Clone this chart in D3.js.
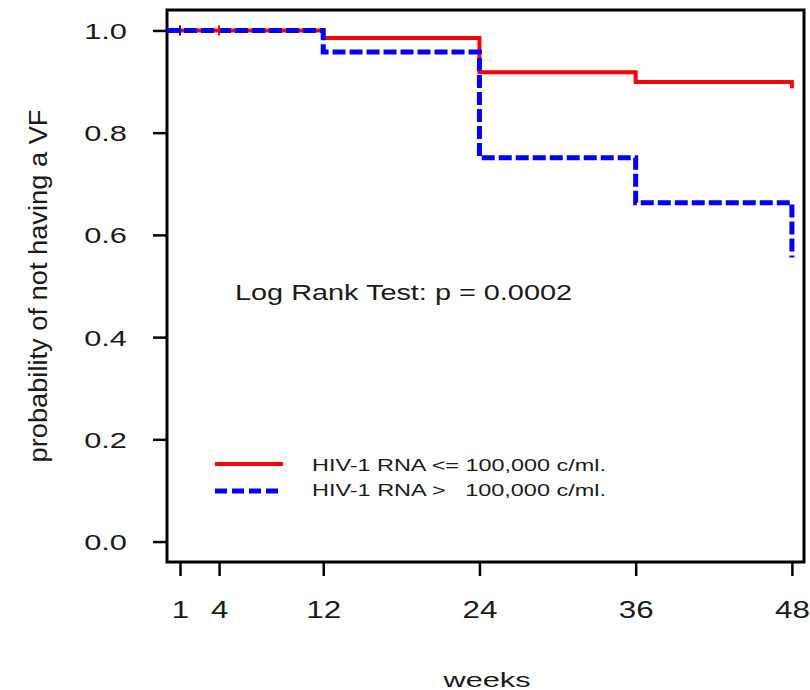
<!DOCTYPE html>
<html>
<head>
<meta charset="utf-8">
<script src="https://cdn.jsdelivr.net/npm/d3@7"></script>
<style>
  html, body { margin: 0; padding: 0; background: #fff; }
  text { font-family: "Liberation Sans", Arial, sans-serif; fill: #1a1a1a; }
</style>
</head>
<body>
<svg id="chart" width="810" height="690"></svg>
<script>
// ---- data ----
const weekTicks = [1, 4, 12, 24, 36, 48];
const probTicks = [0.0, 0.2, 0.4, 0.6, 0.8, 1.0];
const stepWeeks = [0, 12, 24, 36, 48];
const lowRNA = [1.0, 0.985, 0.918, 0.899, 0.887];   // HIV-1 RNA <= 100,000
const highRNA = [1.0, 0.958, 0.751, 0.663, 0.556];  // HIV-1 RNA > 100,000
const lowCensor = [4];
const highCensor = [1];
const seriesNames = ["HIV-1 RNA <= 100,000 c/ml.", "HIV-1 RNA >   100,000 c/ml."];
const annotation = "Log Rank Test: p = 0.0002";
const xTitle = "weeks";
const yTitle = "probability of not having a VF";

// ---- layout ----
const svg = d3.select("#chart");
const box = {left: 167, right: 804, top: 10, bottom: 562};
const x = d3.scaleLinear().domain([0, 48.93]).range([box.left, box.right]);
const y = d3.scaleLinear().domain([-0.04, 1.04]).range([box.bottom, box.top]);

function widen(sel, factor) {
  sel.each(function() {
    const w = this.getComputedTextLength();
    d3.select(this).attr("textLength", w * factor).attr("lengthAdjust", "spacingAndGlyphs");
  });
}
function fitWidth(sel, width) {
  sel.attr("textLength", width).attr("lengthAdjust", "spacingAndGlyphs");
}

// axes
const yAxis = d3.axisLeft(y).tickValues(probTicks).tickFormat(d3.format(".1f")).tickSize(14).tickPadding(26);
const gy = svg.append("g").attr("transform", `translate(${box.left},0)`).call(yAxis);
gy.select(".domain").remove();
gy.selectAll(".tick line").attr("stroke", "#000").attr("stroke-width", 2.5);
gy.selectAll(".tick text").attr("font-size", 22).attr("dy", "0.36em")
  .style("font-family", "Liberation Sans, Arial, sans-serif").attr("fill", "#1a1a1a");
widen(gy.selectAll(".tick text"), 1.4);

const xAxis = d3.axisBottom(x).tickValues(weekTicks).tickFormat(d3.format("d")).tickSize(14).tickPadding(26);
const gx = svg.append("g").attr("transform", `translate(0,${box.bottom})`).call(xAxis);
gx.select(".domain").remove();
gx.selectAll(".tick line").attr("stroke", "#000").attr("stroke-width", 2.5);
gx.selectAll(".tick text").attr("font-size", 23)
  .style("font-family", "Liberation Sans, Arial, sans-serif").attr("fill", "#1a1a1a");
widen(gx.selectAll(".tick text"), 1.36);

// box
svg.append("rect")
  .attr("x", box.left).attr("y", box.top)
  .attr("width", box.right - box.left).attr("height", box.bottom - box.top)
  .attr("fill", "none").attr("stroke", "#000").attr("stroke-width", 3);

// curves
const line = d3.line().x(d => x(d[0])).y(d => y(d[1])).curve(d3.curveStepAfter);
svg.append("path")
  .datum(stepWeeks.map((w, i) => [w, lowRNA[i]]))
  .attr("d", line).attr("fill", "none").attr("stroke", "#ff0000").attr("stroke-width", 4);
svg.append("path")
  .datum(stepWeeks.map((w, i) => [w, highRNA[i]]))
  .attr("d", line).attr("fill", "none").attr("stroke", "#0000ff").attr("stroke-width", 5)
  .attr("stroke-dasharray", "13,4");

// censor marks
svg.selectAll(".cl").data(lowCensor).enter().append("line")
  .attr("x1", d => x(d)).attr("x2", d => x(d)).attr("y1", y(1) - 5).attr("y2", y(1) + 5)
  .attr("stroke", "#ff0000").attr("stroke-width", 2);
svg.selectAll(".ch").data(highCensor).enter().append("line")
  .attr("x1", d => x(d)).attr("x2", d => x(d)).attr("y1", y(1) - 5).attr("y2", y(1) + 5)
  .attr("stroke", "#0000ff").attr("stroke-width", 2);

// annotation
svg.append("text").attr("x", 235).attr("y", 300).attr("font-size", 21.5).text(annotation).call(fitWidth, 337);

// legend
const legLineY = [464, 491];
const legTextY = [471, 496];
const legColors = ["#ff0000", "#0000ff"];
const legDash = [null, "12,5"];
const legW = [4, 5];
seriesNames.forEach((name, i) => {
  svg.append("line").attr("x1", 215).attr("x2", 283).attr("y1", legLineY[i]).attr("y2", legLineY[i])
    .attr("stroke", legColors[i]).attr("stroke-width", legW[i]).attr("stroke-dasharray", legDash[i]);
  svg.append("text").attr("x", 312).attr("y", legTextY[i]).attr("font-size", 17)
    .attr("xml:space", "preserve").style("white-space", "pre").text(name).call(fitWidth, 294);
});

// titles
svg.append("text").attr("x", 487).attr("y", 687).attr("text-anchor", "middle").attr("font-size", 21)
  .text(xTitle).call(fitWidth, 87);
svg.append("text").attr("transform", `translate(47,${(box.top + box.bottom) / 2}) rotate(-90)`)
  .attr("text-anchor", "middle").attr("font-size", 25).text(yTitle).call(fitWidth, 353);
</script>
</body>
</html>
